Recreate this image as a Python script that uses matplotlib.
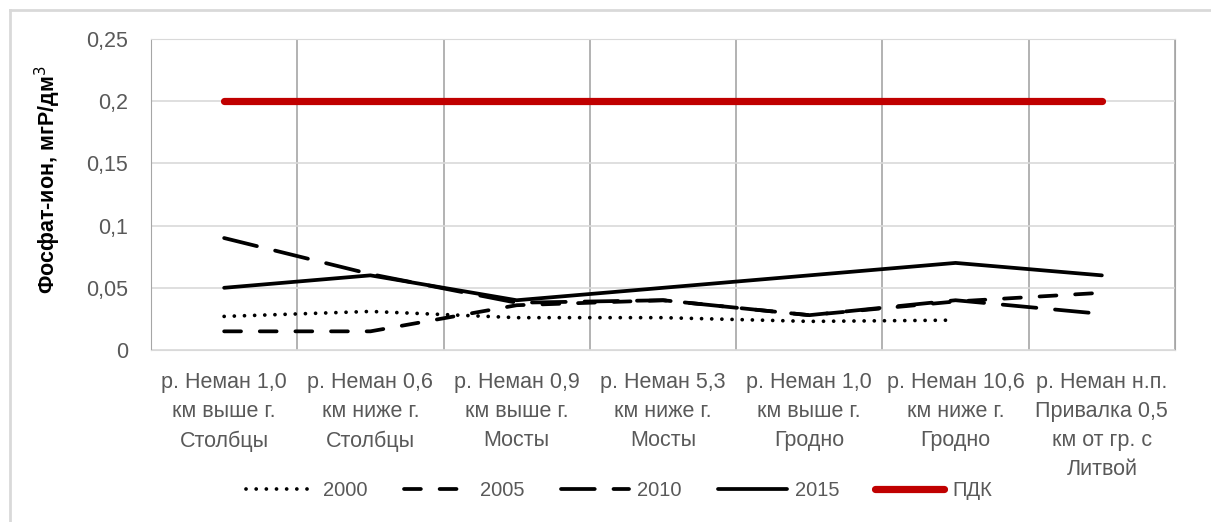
import numpy as np
import matplotlib.pyplot as plt
from matplotlib import font_manager

# fonts: narrow sans if available, else Liberation Sans
names = {f.name for f in font_manager.fontManager.ttflist}
base = 'Liberation Sans Narrow' if 'Liberation Sans Narrow' in names else 'Liberation Sans'
plt.rcParams['font.family'] = [base, 'DejaVu Sans']

# ---- data ----
stations = [
    "р. Неман 1,0\nкм выше г.\nСтолбцы",
    "р. Неман 0,6\nкм ниже г.\nСтолбцы",
    "р. Неман 0,9\nкм выше г.\nМосты",
    "р. Неман 5,3\nкм ниже г.\nМосты",
    "р. Неман 1,0\nкм выше г.\nГродно",
    "р. Неман 10,6\nкм ниже г.\nГродно",
    "р. Неман н.п.\nПривалка 0,5\nкм от гр. с\nЛитвой",
]
y2000 = [0.027, 0.031, 0.026, 0.026, 0.023, 0.024]
y2005 = [0.015, 0.015, 0.036, 0.040, 0.028, 0.039, 0.046]
y2010 = [0.090, 0.061, 0.038, 0.040, 0.028, 0.040, 0.029]
y2015 = [0.05, 0.06, 0.04, 0.05, 0.06, 0.07, 0.06]
pdk = [0.2] * 7

grey_txt = '#595959'

fig = plt.figure(figsize=(12.11, 5.22), dpi=100)
ax = fig.add_axes([151/1211, 1 - 350/522, (1175-151)/1211, (350-39)/522])

x = np.arange(len(stations))
lw = 2.7

ax.plot(x[:len(y2000)], y2000, color='black', lw=lw, linestyle=(0, (0.01, 2.7)),
        dash_capstyle='round', label='2000')
ax.plot(x, y2005, color='black', lw=lw, linestyle=(0, (4.5, 5)),
        dash_capstyle='round', label='2005')
ax.plot(x, y2010, color='black', lw=lw, linestyle=(0, (9, 5)),
        dash_capstyle='round', label='2010')
ax.plot(x, y2015, color='black', lw=lw, solid_capstyle='round', label='2015')
ax.plot(x, pdk, color='#C00000', lw=5.2, solid_capstyle='round', label='ПДК')

ax.set_xlim(-0.5, len(stations) - 0.5)
ax.set_ylim(0, 0.25)
ax.set_yticks([0, 0.05, 0.1, 0.15, 0.2, 0.25])
ax.set_yticklabels(['0', '0,05', '0,1', '0,15', '0,2', '0,25'])
ax.set_xticks(x)
ax.set_xticklabels(stations)
ax.set_xticks(np.arange(-0.5, len(stations)), minor=True)

ax.grid(axis='y', color='#D9D9D9', lw=1.2)
ax.grid(axis='x', which='minor', color='#A6A6A6', lw=1.2)
ax.set_axisbelow(True)
for s in ['top', 'bottom']:
    ax.spines[s].set_color('#D9D9D9')
for s in ['left', 'right']:
    ax.spines[s].set_color('#A6A6A6')
ax.tick_params(which='both', length=0)
ax.tick_params(axis='x', colors=grey_txt, labelsize=15.5, pad=16)
ax.tick_params(axis='y', colors=grey_txt, labelsize=15.5, pad=16.5)
for t in ax.get_xticklabels():
    t.set_linespacing(1.5)

ax.set_ylabel('Фосфат-ион, мгР/дм$^3$', fontsize=15.5, fontweight='bold',
              color='black')
ax.yaxis.set_label_coords(-0.086, 0.547)

fig.legend(loc='center', bbox_to_anchor=(619/1211, 1 - 491/522), ncol=5,
           frameon=False, fontsize=14.5, handlelength=3.4, columnspacing=1.8,
           handletextpad=0.4, labelcolor=grey_txt)

# outer chart frame
fig.add_artist(plt.Line2D([10/1211, 10/1211], [0, 1 - 10/522], color='#D9D9D9', lw=2,
                          transform=fig.transFigure))
fig.add_artist(plt.Line2D([10/1211, 1], [1 - 10/522, 1 - 10/522], color='#D9D9D9', lw=2,
                          transform=fig.transFigure))

fig.savefig('out.png', dpi=100)
